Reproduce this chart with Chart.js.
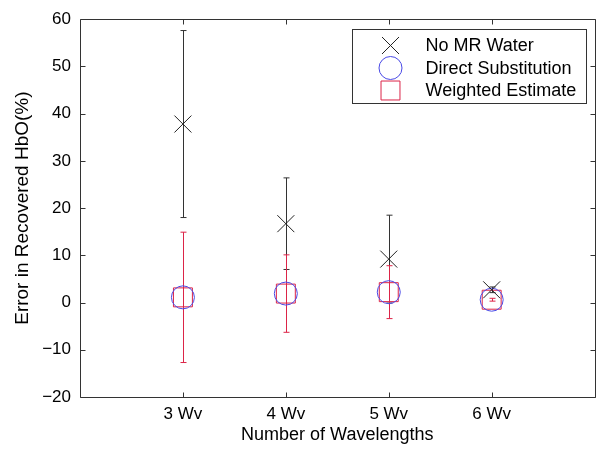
<!DOCTYPE html>
<html>
<head>
<meta charset="utf-8">
<script src="https://cdn.jsdelivr.net/npm/chart.js@4/dist/chart.umd.min.js"></script>
<style>
  html, body { margin: 0; padding: 0; background: #fff; }
  #wrap { width: 609px; height: 460px; }
</style>
</head>
<body>
<div id="wrap"><canvas id="c" width="609" height="460"></canvas></div>
<script>
// ---- data ----
const categories = ['3 Wv', '4 Wv', '5 Wv', '6 Wv'];
const xPositions = [3, 4, 5, 6];
const noMRWater = [37.8, 16.7, 9.2, 2.7];
const noMRWaterErr = [19.8, 9.7, 9.3, 0.6];
const directSubstitution = [1.1, 1.9, 2.2, 0.6];
const weightedEstimate = [1.1, 1.9, 2.2, 0.6];
const weightedEstimateErr = [13.8, 8.2, 5.6, 0.3];
const yTickValues = [-20, -10, 0, 10, 20, 30, 40, 50, 60];
const seriesLabels = ['No MR Water', 'Direct Substitution', 'Weighted Estimate'];

const FONT = '"Liberation Sans", Arial, Helvetica, sans-serif';
const BLACK = '#222222';
const BLUE = '#4a4ae6';
const RED = '#dc2448';

function pts(vals) { return vals.map((v, i) => ({ x: xPositions[i], y: v })); }

const errorBars = [
  { values: noMRWater, err: noMRWaterErr, color: '#333333' },
  { values: weightedEstimate, err: weightedEstimateErr, color: RED }
];

const errorBarPlugin = {
  id: 'errorBars',
  beforeDatasetsDraw(chart) {
    const { ctx, scales: { x, y } } = chart;
    ctx.save();
    ctx.lineWidth = 1;
    errorBars.forEach(s => {
      ctx.strokeStyle = s.color;
      s.values.forEach((v, i) => {
        const px = Math.round(x.getPixelForValue(xPositions[i])) + 0.5;
        const top = y.getPixelForValue(v + s.err[i]);
        const bot = y.getPixelForValue(v - s.err[i]);
        ctx.beginPath();
        ctx.moveTo(px, top); ctx.lineTo(px, bot);
        ctx.moveTo(px - 3, top); ctx.lineTo(px + 3, top);
        ctx.moveTo(px - 3, bot); ctx.lineTo(px + 3, bot);
        ctx.stroke();
      });
    });
    ctx.restore();
  }
};

const framePlugin = {
  id: 'frame',
  afterDraw(chart) {
    const { ctx, chartArea: a, scales: { x, y } } = chart;
    ctx.save();
    ctx.strokeStyle = '#333333';
    ctx.lineWidth = 1;
    const L = Math.round(a.left) + 0.5, R = Math.round(a.right) + 0.5;
    const T = Math.round(a.top) + 0.5, B = Math.round(a.bottom) + 0.5;
    ctx.beginPath();
    ctx.rect(L, T, R - L, B - T);
    y.ticks.forEach(t => {
      const py = Math.round(y.getPixelForValue(t.value)) + 0.5;
      ctx.moveTo(L, py); ctx.lineTo(L + 5, py);
      ctx.moveTo(R, py); ctx.lineTo(R - 5, py);
    });
    x.ticks.forEach(t => {
      const px = Math.round(x.getPixelForValue(t.value)) + 0.5;
      ctx.moveTo(px, B); ctx.lineTo(px, B - 5);
      ctx.moveTo(px, T); ctx.lineTo(px, T + 5);
    });
    ctx.stroke();

    // legend
    const lw = 234, lh = 74;
    const lx = Math.round(a.right - 9 - lw) + 0.5;
    const ly = Math.round(a.top + 10) + 0.5;
    ctx.fillStyle = '#ffffff';
    ctx.fillRect(lx, ly, lw, lh);
    ctx.strokeStyle = '#333333';
    ctx.strokeRect(lx, ly, lw, lh);
    const rowY = [ly + 16, ly + 38.5, ly + 61];
    ctx.font = '18px ' + FONT;
    ctx.textBaseline = 'middle';
    ctx.textAlign = 'left';
    chart.data.datasets.forEach((ds, i) => {
      const mx = lx + 38, my = rowY[i];
      ctx.strokeStyle = ds.borderColor;
      ctx.fillStyle = 'rgba(0,0,0,0)';
      ctx.lineWidth = 1;
      Chart.helpers.drawPoint(ctx, {
        pointStyle: ds.pointStyle,
        radius: ds.pointRadius,
        rotation: 0,
        borderWidth: 1
      }, mx, my);
      ctx.fillStyle = '#000000';
      ctx.fillText(ds.label, lx + 73, my + 1);
    });
    ctx.restore();
  }
};

new Chart(document.getElementById('c'), {
  type: 'scatter',
  data: {
    datasets: [
      { label: seriesLabels[0], data: pts(noMRWater), pointStyle: 'crossRot', pointRadius: 12,
        borderColor: BLACK, backgroundColor: 'rgba(0,0,0,0)', borderWidth: 1, showLine: false },
      { label: seriesLabels[1], data: pts(directSubstitution), pointStyle: 'circle', pointRadius: 11.5,
        borderColor: BLUE, backgroundColor: 'rgba(0,0,0,0)', borderWidth: 1, showLine: false },
      { label: seriesLabels[2], data: pts(weightedEstimate), pointStyle: 'rect', pointRadius: 13.4,
        borderColor: RED, backgroundColor: 'rgba(0,0,0,0)', borderWidth: 1, showLine: false }
    ]
  },
  options: {
    responsive: false,
    animation: false,
    devicePixelRatio: 1,
    layout: { padding: { left: 0, right: 12, top: 16, bottom: 0 } },
    plugins: { legend: { display: false }, tooltip: { enabled: false } },
    elements: { point: { hoverRadius: 12 } },
    scales: {
      x: {
        type: 'linear', min: 2, max: 7,
        afterBuildTicks(scale) { scale.ticks = xPositions.map(v => ({ value: v })); },
        afterFit(scale) { scale.height = 63; },
        grid: { display: false, drawTicks: false },
        border: { display: false },
        ticks: {
          padding: 7, color: '#000', font: { family: FONT, size: 17 },
          maxRotation: 0, autoSkip: false,
          callback: v => { const i = xPositions.indexOf(v); return i >= 0 ? categories[i] : ''; }
        },
        title: { display: true, text: 'Number of Wavelengths', color: '#000',
          font: { family: FONT, size: 18 }, padding: { top: 0, bottom: 14 } }
      },
      y: {
        type: 'linear', min: -20, max: 60,
        afterBuildTicks(scale) { scale.ticks = yTickValues.map(v => ({ value: v })); },
        afterFit(scale) { scale.width = 80; },
        grid: { display: false, drawTicks: false },
        border: { display: false },
        ticks: {
          padding: 9, color: '#000', font: { family: FONT, size: 17 },
          callback: v => String(v).replace('-', '\u2212')
        },
        title: { display: true, text: 'Error in Recovered HbO(%)', color: '#000',
          font: { family: FONT, size: 19 }, padding: { top: 11, bottom: 0 } }
      }
    }
  },
  plugins: [errorBarPlugin, framePlugin]
});
</script>
</body>
</html>
